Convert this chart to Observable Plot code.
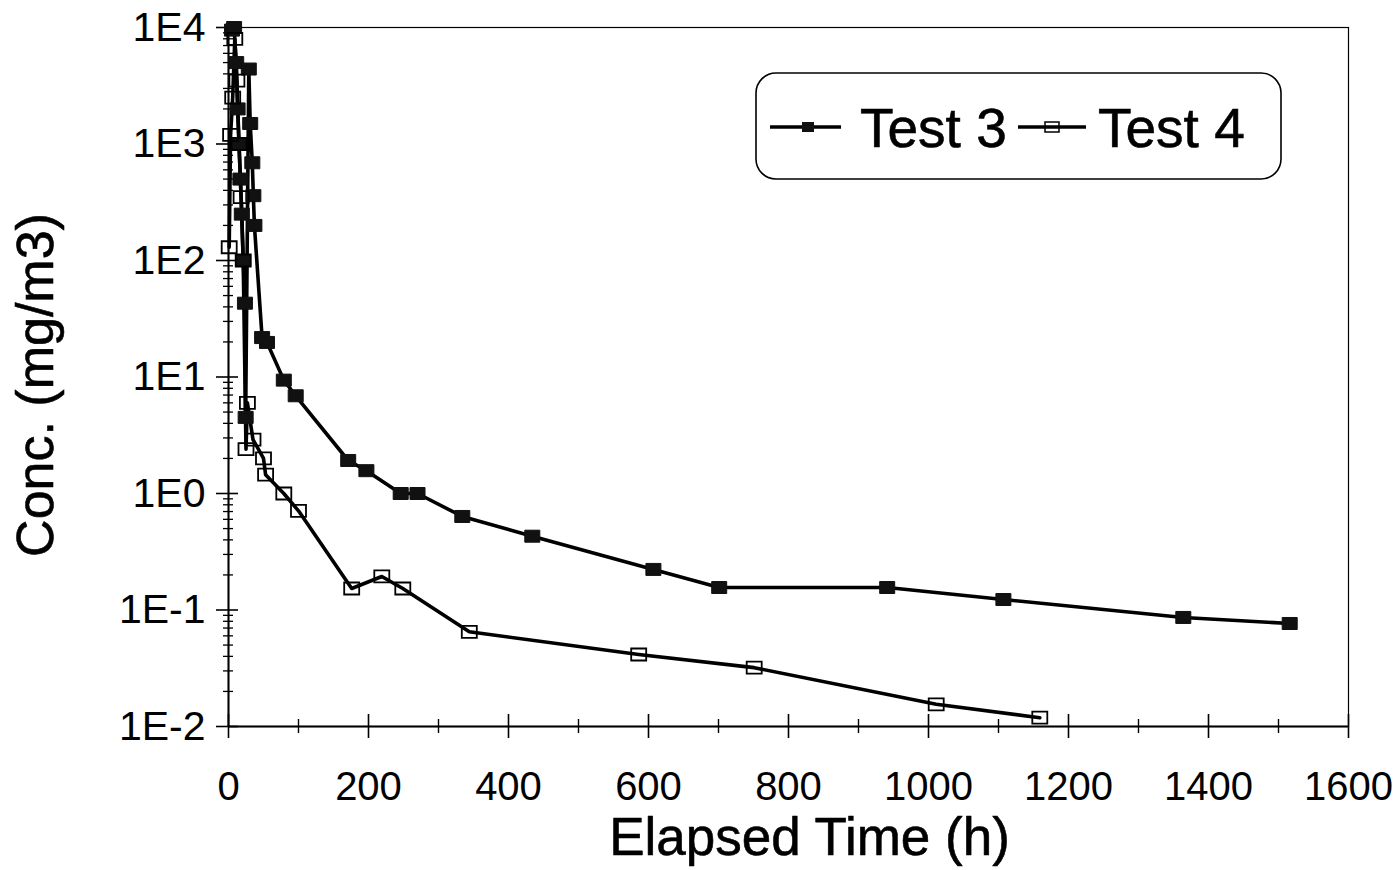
<!DOCTYPE html>
<html><head><meta charset="utf-8">
<script src="https://cdn.jsdelivr.net/npm/d3@7"></script>
<script src="https://cdn.jsdelivr.net/npm/@observablehq/plot@0.6"></script>
<style>
body{margin:0;background:#fff;font-family:"Liberation Sans",Arial,Helvetica,sans-serif;}
#wrap{position:relative;width:1393px;height:870px;overflow:hidden;}
#legend{position:absolute;left:755px;top:72px;width:527px;height:108px;}
</style></head><body><div id="wrap"></div>
<script>
// ---- data (elapsed time in h, concentration in mg/m3) ----
const test3Time = [5, 8, 11, 13, 15, 17, 19, 21, 23.5, 24.5, 29, 31, 34, 35.5, 37, 48, 55, 79, 96, 171, 197, 246, 270, 334, 434, 607, 701, 941, 1107, 1364, 1516];
const test3Conc = [9500, 10000, 5000, 2000, 1000, 500, 250, 100, 43, 4.5, 4400, 1500, 690, 360, 200, 21.8, 19.8, 9.4, 6.9, 1.92, 1.57, 1.0, 1.0, 0.635, 0.43, 0.223, 0.156, 0.156, 0.123, 0.0863, 0.0766];
const test4Time = [1, 3, 6, 9, 12, 15, 18, 21, 25, 27, 35, 50, 53, 79, 100, 176, 219, 249, 344, 586, 751, 1011, 1159];
const test4Conc = [130, 1200, 2500, 8000, 3500, 1000, 350, 100, 2.4, 6.0, 2.9, 2.0, 1.45, 1.0, 0.71, 0.153, 0.194, 0.153, 0.065, 0.0415, 0.032, 0.0155, 0.0119];
const seriesNames = ["Test 3", "Test 4"];
const xMajorTicks = [0, 200, 400, 600, 800, 1000, 1200, 1400, 1600];
const xMinorTicks = [100, 300, 500, 700, 900, 1100, 1300, 1500];
const yMajorTicks = [0.01, 0.1, 1, 10, 100, 1000, 10000];
const xTitle = "Elapsed Time (h)";
const yTitle = "Conc. (mg/m3)";

const test3 = test3Time.map((t, i) => ({t, c: test3Conc[i]}));
const test4 = test4Time.map((t, i) => ({t, c: test4Conc[i]}));
const yMinorTicks = [];
for (const d of yMajorTicks.slice(0, -1)) for (let k = 2; k <= 9; k++) yMinorTicks.push(+(k * d).toPrecision(3));
const fmtY = d => "1E" + Math.round(Math.log10(d));

const rectSym = {draw(ctx) { const w = 7.5, h = 6; ctx.moveTo(-w, -h); ctx.lineTo(w, -h); ctx.lineTo(w, h); ctx.lineTo(-w, h); ctx.closePath(); }};

const W = 1393, H = 870, mL = 228, mR = 45, mT = 27, mB = 144;
const fw = W - mL - mR, fh = H - mT - mB;
const textStyle = {fill: "black", stroke: "black", strokeWidth: 0.6};

const chart = Plot.plot({
  width: W, height: H,
  marginLeft: mL, marginRight: mR, marginTop: mT, marginBottom: mB,
  style: {fontFamily: "Liberation Sans, Arial, Helvetica, sans-serif", background: "white", color: "black"},
  x: {domain: [0, 1600]},
  y: {type: "log", domain: [0.01, 10000]},
  marks: [
    Plot.frame({stroke: "black", strokeWidth: 1.2}),
    Plot.ruleX([0], {stroke: "black", strokeWidth: 2}),
    Plot.ruleY([0.01], {stroke: "black", strokeWidth: 2}),
    Plot.tickX(xMajorTicks, {x: d => d, insetTop: fh - 12, insetBottom: -12, stroke: "black", strokeWidth: 1.6}),
    Plot.tickX(xMinorTicks, {x: d => d, insetTop: fh - 7, insetBottom: -7, stroke: "black", strokeWidth: 1.4}),
    Plot.tickY(yMajorTicks, {y: d => d, insetLeft: -12, insetRight: fw - 10, stroke: "black", strokeWidth: 1.6}),
    Plot.tickY(yMinorTicks, {y: d => d, insetLeft: -5, insetRight: fw - 5, stroke: "black", strokeWidth: 1.3}),
    Plot.axisX({ticks: xMajorTicks, tickSize: 0, tickPadding: 45, fontSize: 40, label: null, tickFormat: d => String(d), ...textStyle, strokeWidth: 0.4}),
    Plot.axisY({ticks: yMajorTicks, tickSize: 0, tickPadding: 23, fontSize: 41, label: null, tickFormat: fmtY, ...textStyle, strokeWidth: 0.4}),
    Plot.line(test3, {x: "t", y: "c", stroke: "black", strokeWidth: 3.6}),
    Plot.line(test4, {x: "t", y: "c", stroke: "black", strokeWidth: 3.6}),
    Plot.dot(test3, {x: "t", y: "c", symbol: rectSym, fill: "#111", stroke: "#111", strokeWidth: 1}),
    Plot.dot(test4, {x: "t", y: "c", symbol: rectSym, fill: "none", stroke: "black", strokeWidth: 1.8}),
    Plot.text([xTitle], {text: d => d, frameAnchor: "bottom", lineAnchor: "middle", dx: 21, dy: 112, fontSize: 53, ...textStyle}),
    Plot.text([yTitle], {text: d => d, frameAnchor: "left", lineAnchor: "middle", textAnchor: "middle", rotate: -90, dx: -192, dy: 8, fontSize: 52, ...textStyle})
  ]
});
const wrap = document.getElementById("wrap");
wrap.appendChild(chart);

// legend (inside the plot area, top right)
const ns = "http://www.w3.org/2000/svg";
const leg = document.createElementNS(ns, "svg");
leg.setAttribute("id", "legend");
leg.setAttribute("width", 527); leg.setAttribute("height", 108);
leg.innerHTML = `
  <rect x="1" y="1" width="525" height="106" rx="20" ry="20" fill="white" stroke="black" stroke-width="1.6"/>
  <line x1="15" y1="55" x2="86" y2="55" stroke="black" stroke-width="3.4"/>
  <rect x="47" y="50" width="12" height="10" fill="#111"/>
  <text x="105" y="75" font-size="55" stroke="black" stroke-width="0.6" font-family="Liberation Sans, Arial, sans-serif">${seriesNames[0]}</text>
  <line x1="263" y1="55" x2="331" y2="55" stroke="black" stroke-width="3.4"/>
  <rect x="290" y="50" width="14" height="10" fill="none" stroke="black" stroke-width="1.5"/>
  <text x="343" y="75" font-size="55" stroke="black" stroke-width="0.6" font-family="Liberation Sans, Arial, sans-serif">${seriesNames[1]}</text>`;
wrap.appendChild(leg);
</script></body></html>
